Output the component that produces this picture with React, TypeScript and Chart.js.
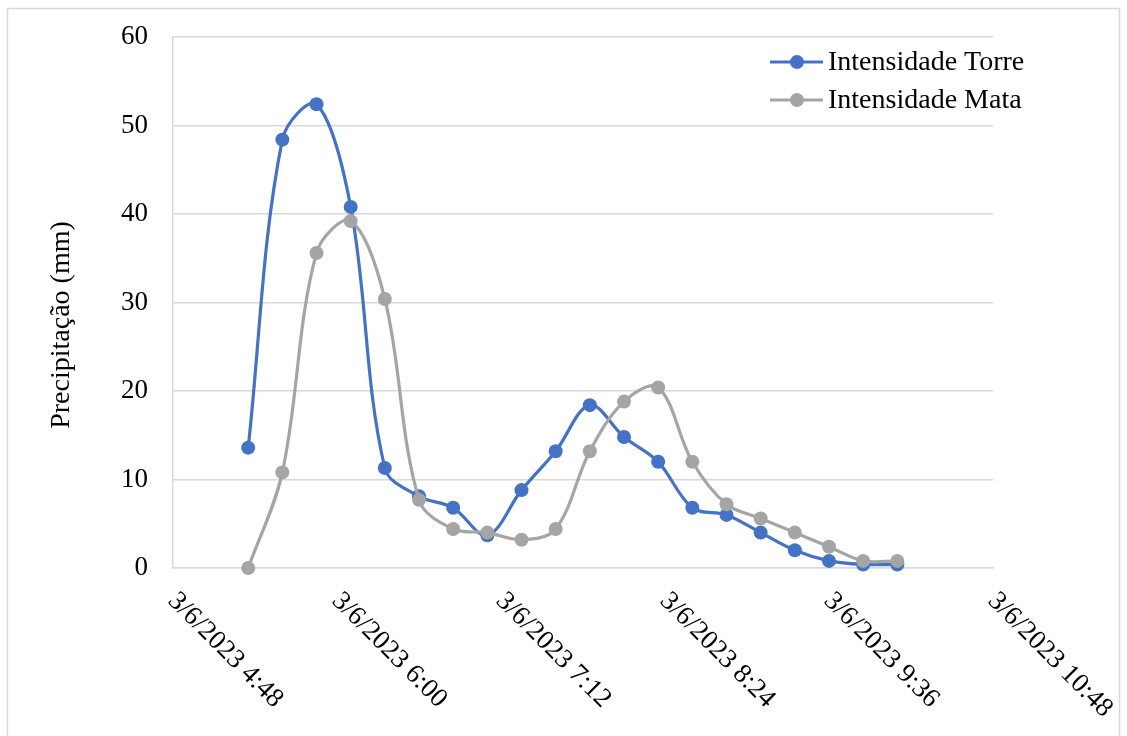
import React, { useEffect, useRef } from "react";
import { Chart, registerables } from "chart.js";

Chart.register(...registerables);

// Date shared by every sample and tick
const DATE_LABEL = "3/6/2023";

// Sample times (15-minute intervals)
const sampleTimes = [
  "5:21", "5:36", "5:51", "6:06", "6:21", "6:36", "6:51", "7:06", "7:21", "7:36",
  "7:51", "8:06", "8:21", "8:36", "8:51", "9:06", "9:21", "9:36", "9:51", "10:06",
];

// Precipitation intensity (mm)
const torreValues = [
  13.6, 48.4, 52.4, 40.8, 11.3, 8.1, 6.8, 3.7, 8.8, 13.2,
  18.4, 14.8, 12.0, 6.8, 6.0, 4.0, 2.0, 0.8, 0.4, 0.4,
];
const mataValues = [
  0, 10.8, 35.6, 39.2, 30.4, 7.7, 4.4, 4.0, 3.2, 4.4,
  13.2, 18.8, 20.4, 12.0, 7.2, 5.6, 4.0, 2.4, 0.8, 0.8,
];

// Horizontal axis ticks
const xTickTimes = ["4:48", "6:00", "7:12", "8:24", "9:36", "10:48"];

const seriesLabels = ["Intensidade Torre", "Intensidade Mata"];
const yTitle = "Precipitação (mm)";

const BLUE = "#4472C4";
const GRAY = "#A5A5A5";
const GRID = "#D9D9D9";
const FONT = "'Liberation Serif', 'Times New Roman', serif";

const toMinutes = (t: string) => {
  const [h, m] = t.split(":").map(Number);
  return h * 60 + m;
};

const xTickValues = xTickTimes.map(toMinutes);

const decorations = {
  id: "decorations",
  beforeDraw(chart: any) {
    const { ctx, width, height } = chart;
    ctx.save();
    ctx.fillStyle = "#fff";
    ctx.fillRect(0, 0, width, height);
    ctx.strokeStyle = GRID;
    ctx.lineWidth = 1.5;
    ctx.strokeRect(7.5, 8.5, 1112, 740);
    ctx.restore();
  },
  afterDraw(chart: any) {
    const { ctx, chartArea } = chart;
    const xScale = chart.scales.x;
    ctx.save();
    ctx.fillStyle = "#000";

    // rotated time labels under the axis
    ctx.font = `27px ${FONT}`;
    ctx.textAlign = "left";
    ctx.textBaseline = "middle";
    xTickTimes.forEach((label, i) => {
      const x = xScale.getPixelForValue(xTickValues[i]);
      ctx.save();
      ctx.translate(x - 1, chartArea.bottom + 29);
      ctx.rotate(Math.PI / 4);
      ctx.fillText(`${DATE_LABEL} ${label}`, 0, 0);
      ctx.restore();
    });

    // vertical axis title
    ctx.save();
    ctx.font = `28px ${FONT}`;
    ctx.textAlign = "center";
    ctx.textBaseline = "middle";
    ctx.translate(62, 325);
    ctx.rotate(-Math.PI / 2);
    ctx.fillText(yTitle, 0, 0);
    ctx.restore();

    // legend
    ctx.font = `28px ${FONT}`;
    ctx.textAlign = "left";
    ctx.textBaseline = "middle";
    chart.data.datasets.forEach((ds: any, i: number) => {
      const y = 62 + 38 * i;
      ctx.strokeStyle = ds.borderColor;
      ctx.lineWidth = 3;
      ctx.beginPath();
      ctx.moveTo(770, y);
      ctx.lineTo(823, y);
      ctx.stroke();
      ctx.fillStyle = ds.borderColor;
      ctx.beginPath();
      ctx.arc(797, y, 7, 0, Math.PI * 2);
      ctx.fill();
      ctx.fillStyle = "#000";
      ctx.fillText(ds.label, 828, y + 1);
    });
    ctx.restore();
  },
};

export default function App() {
  const canvasRef = useRef<HTMLCanvasElement | null>(null);

  useEffect(() => {
    document.body.style.margin = "0";
    const canvas = canvasRef.current;
    if (!canvas) return;
    const xs = sampleTimes.map(toMinutes);
    const chart = new Chart(canvas, {
      type: "line",
      data: {
        datasets: [
          {
            label: seriesLabels[0],
            data: xs.map((x, i) => ({ x, y: torreValues[i] })),
            borderColor: BLUE,
            backgroundColor: BLUE,
            borderWidth: 3.2,
            pointRadius: 7,
            pointBorderWidth: 0,
            tension: 0.35,
            clip: false,
            order: 1,
          },
          {
            label: seriesLabels[1],
            data: xs.map((x, i) => ({ x, y: mataValues[i] })),
            borderColor: GRAY,
            backgroundColor: GRAY,
            borderWidth: 3.2,
            pointRadius: 7,
            pointBorderWidth: 0,
            tension: 0.35,
            clip: false,
            order: 0,
          },
        ],
      },
      options: {
        animation: false,
        responsive: false,
        layout: { padding: { left: 0, top: 37, right: 134, bottom: 168 } },
        plugins: { legend: { display: false }, tooltip: { enabled: false } },
        scales: {
          x: {
            type: "linear",
            min: xTickValues[0],
            max: xTickValues[xTickValues.length - 1],
            ticks: { display: false, stepSize: 72 },
            grid: { display: false, drawTicks: false },
            border: { display: true, color: GRID, width: 1.5 },
          },
          y: {
            min: 0,
            max: 60,
            ticks: {
              stepSize: 10,
              padding: 25,
              color: "#000",
              font: { family: FONT, size: 27 },
            },
            grid: { color: GRID, lineWidth: 1.5, drawTicks: false },
            border: { display: true, color: GRID, width: 1.5 },
            afterFit: (scale: any) => {
              scale.width = 173;
              scale.paddingTop = 0;
              scale.paddingBottom = 0;
            },
          },
        },
      },
      plugins: [decorations],
    });
    return () => chart.destroy();
  }, []);

  return (
    <div style={{ width: 1127, height: 736 }}>
      <canvas ref={canvasRef} width={1127} height={736} />
    </div>
  );
}
